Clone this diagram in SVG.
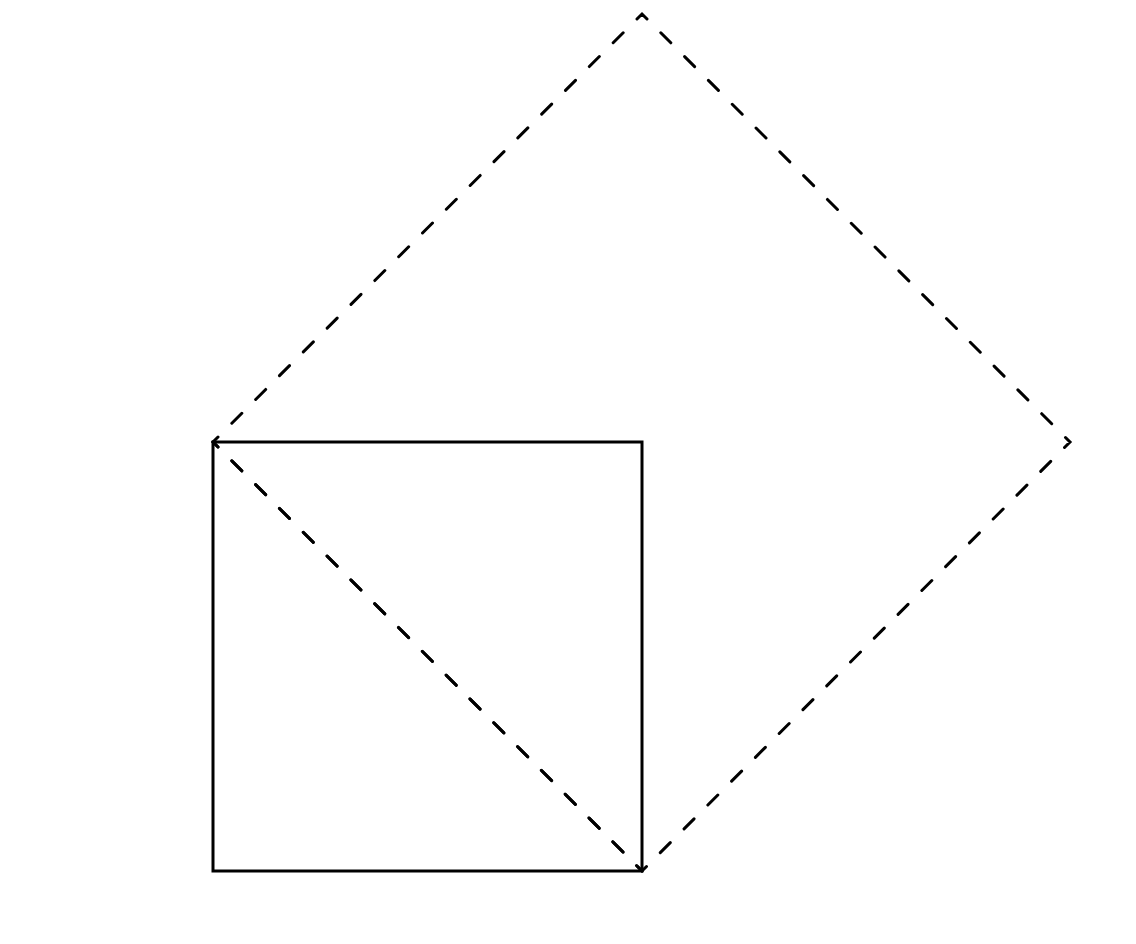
<svg xmlns="http://www.w3.org/2000/svg" width="1136" height="944" viewBox="0 0 1136 944">
  <style>
    .solid { fill: none; stroke: #000; stroke-width: 3; stroke-linejoin: miter; stroke-linecap: square; }
    .dash { fill: none; stroke: #000; stroke-width: 3; stroke-linejoin: miter; stroke-linecap: round; stroke-dasharray: 0.42 0.58; stroke-dashoffset: 0.21; }
  </style>
  <rect width="1136" height="944" fill="#fff"/>
  <g id="square">
    <rect class="solid" x="213" y="442" width="429" height="429"/>
  </g>
  <g id="doubled-square">
    <path class="dash" pathLength="72" d="M213,442 L642,14 L1070,442 L642,871 Z"/>
  </g>
  <g id="diagonal">
    <path class="dash" pathLength="18" d="M213,442 L642,871"/>
  </g>
</svg>
